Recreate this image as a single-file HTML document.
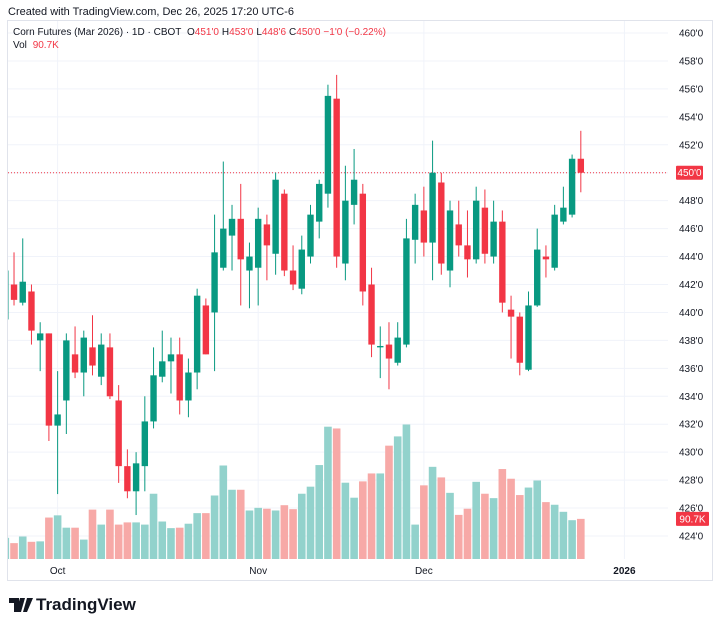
<!DOCTYPE html>
<html><head><meta charset="utf-8">
<style>
body{margin:0;background:#fff;width:720px;height:627px;overflow:hidden;font-family:"Liberation Sans",sans-serif;}
svg{position:absolute;left:0;top:0}
</style></head>
<body>
<svg id="chart" width="720" height="627">
  <text x="8" y="15" font-size="11" fill="#131722">Created with TradingView.com, Dec 26, 2025 17:20 UTC-6</text>
  <rect x="7.5" y="20.5" width="705" height="560" fill="none" stroke="#e0e3eb"/>
  <g id="grid"></g>
  <g id="vol"></g>
  <g id="candles"></g>
  <g id="axis"></g>
  <text x="13" y="35" font-size="10" fill="#131722">Corn Futures (Mar 2026) · 1D · CBOT <tspan dx="3">O</tspan><tspan fill="#f23645">451'0</tspan><tspan dx="3">H</tspan><tspan fill="#f23645">453'0</tspan><tspan dx="3">L</tspan><tspan fill="#f23645">448'6</tspan><tspan dx="3">C</tspan><tspan fill="#f23645">450'0</tspan><tspan dx="3" fill="#f23645">−1'0 (−0.22%)</tspan></text>
  <text x="13" y="48" font-size="10" fill="#131722">Vol <tspan dx="3" fill="#f23645">90.7K</tspan></text>
  <g>
    <path d="M9 598h10v14h-5v-9h-5z M20 598h5l-4 14h-5z" fill="#131722"/>
    <circle cx="22" cy="600" r="0" fill="#131722"/>
    <path d="M27 598h6l-6 14h-4z" fill="#131722"/>
    <text x="36" y="610" font-size="17" font-weight="bold" fill="#131722">TradingView</text>
  </g>
</svg>
<script>
const opens  =[439.5,442.0,440.7,441.5,438.0,438.5,431.9,433.7,437.0,435.7,437.5,435.4,437.5,433.7,429.0,427.2,429.0,432.2,435.4,436.5,437.0,433.7,435.7,440.5,440.0,443.2,445.5,446.7,443.0,443.2,446.3,444.2,448.5,443.0,441.7,444.0,446.5,448.5,455.3,443.5,447.7,448.5,442.0,437.5,437.7,436.4,437.7,445.2,447.3,445.0,449.3,443.0,446.3,444.8,443.8,447.5,444.0,446.5,440.2,439.7,435.9,440.5,444.0,443.2,446.5,447.0,451.0];
const highs  =[443.5,444.3,445.3,442.0,439.3,438.5,435.8,438.5,439.0,438.7,439.8,438.5,438.5,434.8,430.2,430.0,434.0,437.5,438.7,438.2,438.2,436.7,441.7,441.0,447.0,450.8,447.7,449.2,445.0,447.5,447.0,450.0,448.8,444.8,445.5,447.7,449.5,456.3,457.0,450.5,451.7,449.2,443.2,439.0,439.3,439.3,446.7,448.5,449.0,452.3,450.0,448.0,448.0,447.3,449.0,448.8,448.0,447.3,441.2,440.0,441.5,446.0,444.8,447.7,449.0,451.3,453.0];
const lows   =[438.7,440.5,440.5,437.7,435.8,430.8,427.0,431.3,435.3,434.0,435.5,434.8,433.8,427.8,426.7,425.5,427.2,431.7,435.0,434.2,432.7,432.5,434.5,437.0,435.8,443.0,443.0,440.5,440.3,440.5,442.3,442.7,442.6,441.6,441.3,443.5,445.3,447.5,443.2,442.3,446.3,440.5,436.8,435.3,434.5,436.2,437.5,443.5,444.0,442.3,442.7,441.8,444.0,442.5,443.5,443.5,443.5,440.0,436.7,435.5,435.8,440.4,442.5,443.0,446.3,446.8,448.6];
const closes =[443.0,440.9,442.2,438.7,438.5,431.9,432.7,438.0,435.7,438.2,436.2,437.7,434.0,429.0,427.2,429.2,432.2,435.5,436.5,437.0,433.7,435.7,441.2,437.0,444.3,446.0,446.7,443.8,444.0,446.7,444.8,449.5,443.0,442.0,444.5,447.0,449.2,455.5,444.0,448.0,449.5,441.5,437.7,437.6,436.7,438.2,445.3,447.7,445.0,450.0,443.5,447.3,444.8,443.8,448.0,444.2,446.5,440.7,439.7,436.4,440.5,444.5,443.8,447.0,447.5,451.0,450.0];
const volumes=[48,36,51,39,40,94,99,71,71,44,112,78,112,78,83,83,78,148,85,70,71,80,104,104,144,212,157,157,110,116,114,110,122,113,148,164,213,300,296,173,139,176,194,194,257,278,305,78,167,209,185,150,100,114,175,148,138,204,182,145,162,178,129,123,107,88,91];
const priceTicks=[460,458,456,454,452,450,448,446,444,442,440,438,436,434,432,430,428,426,424];
const timeLabels=["Oct","Nov","Dec","2026"];
const timeLabelIdx=[6,29,48,71];
const lastPrice=450.0, lastVolLabel="90.7K";

const NS="http://www.w3.org/2000/svg";
const PL=8, PR=668, PT=21, PB=559;
const yP=p=>33+(460-p)*(503/36);
const xI=i=>5.3+i*8.72;
const volPx=40/90.7;
const yV=v=>PB-v*volPx;
function mk(tag,attrs,parent){const e=document.createElementNS(NS,tag);for(const k in attrs)e.setAttribute(k,attrs[k]);parent.appendChild(e);return e;}
const svg=document.getElementById('chart');
const defs=mk('defs',{},svg);
const cp=mk('clipPath',{id:'plot'},defs);mk('rect',{x:PL,y:PT,width:PR-PL,height:PB-PT},cp);
const grid=document.getElementById('grid'),vol=document.getElementById('vol'),cg=document.getElementById('candles'),ax=document.getElementById('axis');
vol.setAttribute('clip-path','url(#plot)');cg.setAttribute('clip-path','url(#plot)');
priceTicks.forEach(p=>{
  const l=mk('line',{x1:PL,x2:PR,y1:yP(p),y2:yP(p),stroke:'#f0f3fa','stroke-width':1},grid);
  
  
  const t=mk('text',{x:679,y:yP(p)+3.5,'font-size':10,fill:'#131722'},ax);t.textContent=p+"'0";
  
  
});
timeLabels.forEach((s,k)=>{
  const x=xI(timeLabelIdx[k]);
  const l=mk('line',{x1:x,x2:x,y1:PT,y2:PB,stroke:'#f0f3fa'},grid);
  
  
  const t=mk('text',{x:x,y:574,'font-size':10,fill:'#131722','text-anchor':'middle','font-weight':s==='2026'?'bold':'normal'},ax);t.textContent=s;
  
  
});
volumes.forEach((v,i)=>{
  const up=closes[i]>=opens[i];
  const r=mk('rect',{x:xI(i)-3.8,y:yV(v),width:7.6,height:PB-yV(v),fill:up?'#92d2cc':'#f7a9a7'},vol);
  
  
});
opens.forEach((o,i)=>{
  const c=closes[i],up=c>=o,col=up?'#089981':'#f23645';
  const g=mk('g',{},cg);
  
  
  mk('line',{x1:xI(i),x2:xI(i),y1:yP(highs[i]),y2:yP(lows[i]),stroke:col,'stroke-width':1},g);
  const top=yP(Math.max(o,c)),bot=yP(Math.min(o,c));
  mk('rect',{x:xI(i)-3.2,y:top,width:6.4,height:Math.max(1,bot-top),fill:col},g);
});
const ly=yP(lastPrice);
const dl=mk('line',{x1:PL,x2:PR,y1:ly,y2:ly,stroke:'#f23645','stroke-dasharray':'1 2','stroke-width':1},grid);


const b=mk('rect',{x:676,y:ly-7,width:27,height:14,fill:'#f23645',rx:1},ax);


const bt=mk('text',{x:689.5,y:ly+3.5,'font-size':10,fill:'#fff','text-anchor':'middle'},ax);bt.textContent=lastPrice.toFixed(0)+"'0";


const vy=yV(volumes[volumes.length-1]);
const vb=mk('rect',{x:676,y:vy-7,width:33,height:14,fill:'#f23645',rx:1},ax);


const vt=mk('text',{x:692.5,y:vy+3.5,'font-size':10,fill:'#fff','text-anchor':'middle'},ax);vt.textContent=lastVolLabel;


</script>
</body></html>
